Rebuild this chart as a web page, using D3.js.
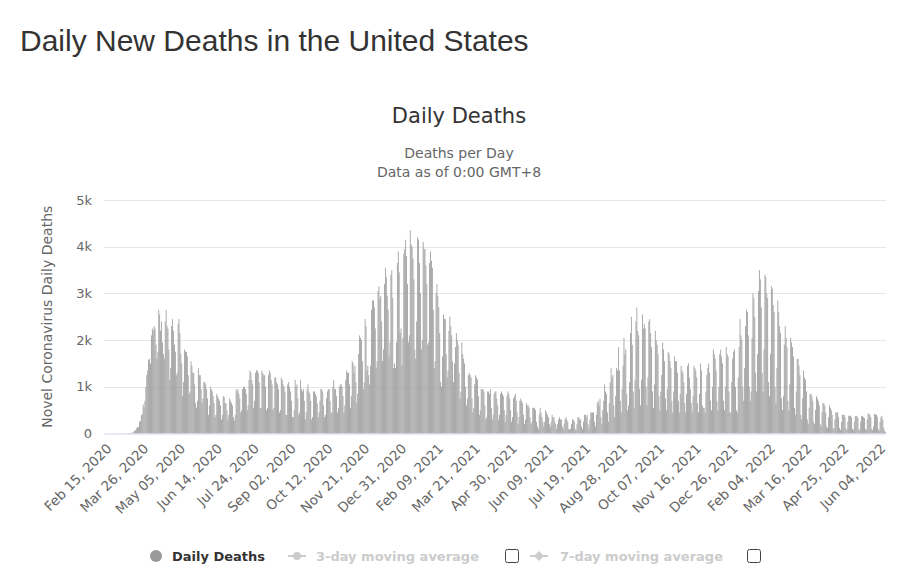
<!DOCTYPE html>
<html><head><meta charset="utf-8">
<script src="https://cdn.jsdelivr.net/npm/d3@7"></script>
<style>
body{margin:0;background:#fff;}
svg{display:block;font-family:"DejaVu Sans",Verdana,sans-serif;}
</style>
</head><body>
<svg id="chart" width="917" height="588"></svg>
<script>
// ---- data ----
const startDate = "2020-02-15"; // first category (index 0)
const dailyDeaths = [
0,0,0,0,0,0,0,
0,0,0,0,0,0,0,
1,0,1,4,3,1,3,
3,1,4,4,6,8,10,
10,11,18,23,40,56,80,
110,135,140,245,270,390,415,
620,560,700,1000,1250,1350,1580,
1600,1500,2100,2250,2200,2300,2250,
1900,1600,1750,2650,2550,2200,2400,
1950,1700,1600,2400,2650,2300,2250,
1800,1150,1400,2300,2450,2200,1900,
1750,1250,1300,2350,2450,2150,1700,
1500,800,1100,1800,1750,1750,1650,
1250,850,900,1550,1450,1300,1300,
1050,650,550,700,1400,1250,1250,
950,650,750,1100,1100,1050,950,
750,400,600,1000,950,900,800,
650,350,400,850,800,750,700,
600,300,400,800,780,650,650,
500,300,400,750,700,650,600,
350,280,400,950,900,950,850,
750,450,500,950,1000,1000,950,
850,500,600,1150,1350,1300,1150,
1050,550,700,1300,1350,1350,1300,
1100,550,550,1350,1300,1250,1250,
1000,500,550,1250,1350,1300,1150,
1050,500,550,1200,1200,1100,1050,
950,450,500,1200,1150,1050,1000,
900,400,400,1050,1100,1000,900,
700,350,350,500,1150,1000,1050,
750,400,450,1150,950,900,950,
700,300,450,950,1050,900,850,
700,300,350,900,900,850,800,
650,350,450,700,950,950,900,
600,350,400,750,900,950,950,
700,450,450,1000,1150,950,950,
800,450,550,1000,1050,1050,1000,
800,450,600,1150,1350,1300,1300,
1050,550,800,1550,1500,1300,1450,
1100,650,850,1700,2100,2050,2000,
1550,950,1100,2450,2300,1350,1450,
1250,1050,1450,2650,2850,2850,2700,
2250,1400,1550,3050,3150,2900,2950,
2400,1550,1800,3200,3550,3350,2950,
2650,1650,1950,3400,3500,2900,1400,
1500,1400,1950,3650,3900,3450,2150,
2250,1450,2050,3850,3950,4150,3800,
3200,1950,2100,4350,4050,4000,3750,
3300,1800,1600,2400,4200,4150,3650,
3000,1800,2000,4100,3950,3950,3600,
3200,1900,1950,3650,3900,3700,3550,
2650,1400,1550,3000,3200,2950,2700,
2150,1100,1000,1650,2550,2450,2450,
1700,1200,1350,2200,2500,2300,2100,
1550,1100,1500,1850,2150,2000,1900,
1300,750,900,1950,1700,1600,1500,
1000,600,750,1250,1300,1250,1200,
750,450,550,1050,1250,1200,1150,
800,400,500,950,950,950,900,
600,300,350,900,900,850,950,
550,300,400,850,900,900,750,
600,300,400,850,900,850,800,
500,250,400,800,900,850,750,
500,250,350,750,800,850,700,
450,200,350,700,750,700,650,
400,200,300,650,600,600,550,
350,200,250,550,550,550,500,
250,150,100,400,550,450,350,
250,150,250,500,450,400,350,
200,150,250,400,350,350,250,
200,100,200,300,350,300,300,
150,100,200,300,350,300,250,
100,80,100,200,300,300,250,
100,80,200,350,350,300,300,
150,100,250,400,400,350,400,
200,100,300,450,450,450,450,
250,150,400,650,700,600,750,
350,200,500,700,1050,900,850,
450,250,650,1100,1400,1200,1250,
600,350,800,1400,1350,1850,1350,
700,450,950,1450,2050,1700,1800,
850,500,600,1100,2150,2500,1900,
900,550,1150,2400,2700,2200,2100,
950,600,1150,2550,2250,2350,2250,
1000,600,1200,2400,2450,2150,1850,
900,550,1050,2200,2000,1900,1700,
800,500,900,1250,1950,1800,1550,
750,500,950,1750,1700,1550,1400,
700,450,900,1650,1550,1550,1300,
700,450,850,1450,1350,1300,1100,
650,450,850,1450,1500,1200,950,
650,450,800,1450,1400,1350,1200,
650,450,850,1500,1350,600,550,
550,450,900,1250,1400,1500,1300,
700,500,1000,1800,1700,1600,1350,
700,500,1000,1700,1800,1650,1500,
700,500,1000,1850,1700,1650,900,
450,450,1100,1600,1750,1800,1000,
500,450,1200,1850,2450,2100,2000,
1000,700,1400,2300,2650,2600,2100,
1000,700,900,2050,3000,2900,2500,
1300,900,1700,3050,3500,3300,2700,
1300,900,1800,3400,3350,3000,2900,
1100,800,1700,3150,3100,2750,2600,
1000,650,1400,2850,2600,2300,2150,
750,500,800,1900,2300,2050,1850,
700,500,1050,2050,1950,1850,1650,
550,400,900,1600,1600,1450,1250,
400,300,750,1350,1200,1150,900,
300,200,550,850,850,800,700,
250,200,500,800,750,700,600,
200,150,450,650,650,600,450,
150,120,350,600,550,500,400,
120,90,300,450,450,450,350,
120,80,250,400,400,400,350,
110,80,250,380,380,380,350,
100,80,250,370,380,370,330,
90,70,250,380,370,350,330,
100,70,300,430,420,400,350,
100,70,150,420,410,400,350,
100,60,250,350,380,300,120,
60,30
];
const tickLabels = ["Feb 15, 2020","Mar 26, 2020","May 05, 2020","Jun 14, 2020","Jul 24, 2020","Sep 02, 2020","Oct 12, 2020","Nov 21, 2020","Dec 31, 2020","Feb 09, 2021","Mar 21, 2021","Apr 30, 2021","Jun 09, 2021","Jul 19, 2021","Aug 28, 2021","Oct 07, 2021","Nov 16, 2021","Dec 26, 2021","Feb 04, 2022","Mar 16, 2022","Apr 25, 2022","Jun 04, 2022"];
const tickStep = 40;
const yTicks = [0,1000,2000,3000,4000,5000];
const yTickLabels = ["0","1k","2k","3k","4k","5k"];
const pageTitle = "Daily New Deaths in the United States";
const chartTitle = "Daily Deaths";
const subtitleLines = ["Deaths per Day","Data as of 0:00 GMT+8"];
const yAxisTitle = "Novel Coronavirus Daily Deaths";
const legendLabels = ["Daily Deaths","3-day moving average","7-day moving average"];

// ---- drawing ----
const svg = d3.select("#chart");
const plot = {left:104, right:886, top:200, bottom:433.5};

const x = d3.scaleBand().domain(d3.range(dailyDeaths.length))
  .range([plot.left, plot.right]).paddingInner(0.12).paddingOuter(0);
const y = d3.scaleLinear().domain([0,5000]).range([plot.bottom, plot.top]);

svg.append("text").attr("x",20).attr("y",51)
  .style("font-family","'Liberation Sans',Arial,sans-serif").style("font-size","30px")
  .attr("fill","#333").text(pageTitle);

svg.append("text").attr("x",459).attr("y",123).attr("text-anchor","middle")
  .style("font-size","21px").attr("fill","#333").text(chartTitle);
svg.selectAll(".sub").data(subtitleLines).join("text").attr("class","sub")
  .attr("x",459).attr("y",(d,i)=>158+i*19).attr("text-anchor","middle")
  .style("font-size","14px").attr("fill","#666").text(d=>d);

// grid
svg.append("g").selectAll("line").data(yTicks.filter(d=>d>0)).join("line")
  .attr("x1",plot.left).attr("x2",plot.right)
  .attr("y1",d=>Math.round(y(d))+0.5).attr("y2",d=>Math.round(y(d))+0.5)
  .attr("stroke","#e6e6e6").attr("stroke-width",1);

// bars
svg.append("g").selectAll("rect").data(dailyDeaths).join("rect")
  .attr("x",(d,i)=>x(i)).attr("width",x.bandwidth())
  .attr("y",d=>y(d)).attr("height",d=>y(0)-y(d))
  .attr("fill","#999");

// x axis line
svg.append("line").attr("x1",plot.left).attr("x2",plot.right)
  .attr("y1",plot.bottom+0.5).attr("y2",plot.bottom+0.5)
  .attr("stroke","#ccd6eb").attr("stroke-width",1);

// y axis
const yAxis = svg.append("g").attr("transform",`translate(${plot.left-12},0)`)
  .call(d3.axisLeft(y).tickValues(yTicks).tickFormat((d,i)=>yTickLabels[i]).tickSize(0).tickPadding(0));
yAxis.select(".domain").remove();
yAxis.selectAll("text").style("font-size","13px").style("font-family","'DejaVu Sans',Verdana,sans-serif").attr("fill","#666");

svg.append("text").attr("transform",`translate(52,${(plot.top+plot.bottom)/2+0}) rotate(-90)`)
  .attr("text-anchor","middle").style("font-size","14px").attr("fill","#666").text(yAxisTitle);

// x axis
const tickIdx = d3.range(0, dailyDeaths.length, tickStep).slice(0, tickLabels.length);
const xAxis = svg.append("g").attr("transform",`translate(0,${plot.bottom})`)
  .call(d3.axisBottom(x).tickValues(tickIdx).tickFormat((d,i)=>tickLabels[i]).tickSize(0));
xAxis.select(".domain").remove();
xAxis.selectAll("text").attr("x",0).attr("y",0).attr("dy",0)
  .attr("transform","translate(8,16) rotate(-45)").attr("text-anchor","end")
  .style("font-size","13.5px").style("font-family","'DejaVu Sans',Verdana,sans-serif").attr("fill","#666");

// legend
const lg = svg.append("g").style("font-size","13px").style("font-weight","bold");
lg.append("circle").attr("cx",156).attr("cy",556).attr("r",6).attr("fill","#999");
lg.append("text").attr("x",172).attr("y",561).attr("fill","#333").text(legendLabels[0]);

lg.append("line").attr("x1",288).attr("x2",306).attr("y1",556).attr("y2",556).attr("stroke","#ccc").attr("stroke-width",2);
lg.append("circle").attr("cx",297).attr("cy",556).attr("r",4).attr("fill","#ccc");
lg.append("text").attr("x",316).attr("y",561).attr("fill","#ccc").text(legendLabels[1]);
lg.append("rect").attr("x",505.5).attr("y",549.5).attr("width",13).attr("height",13).attr("rx",2)
  .attr("fill","#fff").attr("stroke","#444");

lg.append("line").attr("x1",530).attr("x2",548).attr("y1",556).attr("y2",556).attr("stroke","#ccc").attr("stroke-width",2);
lg.append("path").attr("d","M539,551 L544,556 L539,561 L534,556 Z").attr("fill","#ccc");
lg.append("text").attr("x",560).attr("y",561).attr("fill","#ccc").text(legendLabels[2]);
lg.append("rect").attr("x",747.5).attr("y",549.5).attr("width",13).attr("height",13).attr("rx",2)
  .attr("fill","#fff").attr("stroke","#444");
</script>
</body></html>
